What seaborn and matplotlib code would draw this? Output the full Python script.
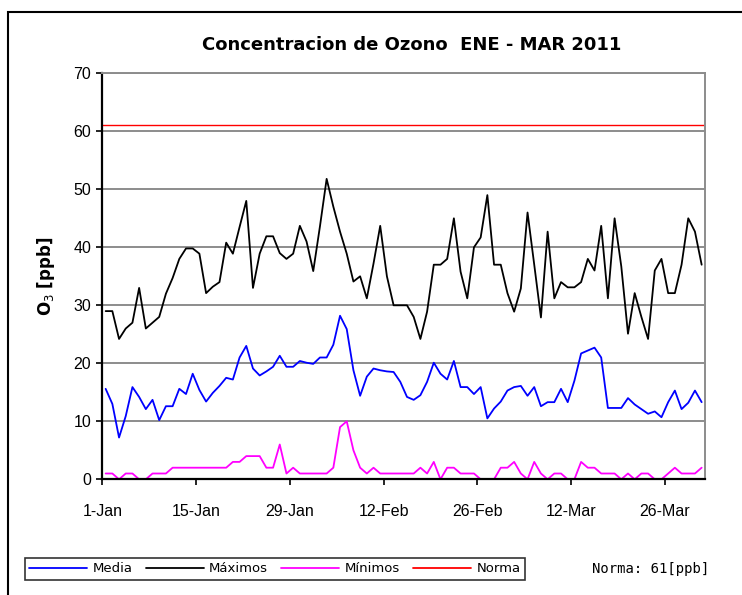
import numpy as np
import pandas as pd
import seaborn as sns
import matplotlib
matplotlib.use("Agg")
import matplotlib.pyplot as plt
import matplotlib.dates as mdates
from matplotlib.patches import Rectangle
from matplotlib.lines import Line2D

# daily values 1-Jan .. 31-Mar 2011
media = [15.6, 13.0, 7.2, 10.9, 15.9, 14.2, 12.1, 13.7, 10.2, 12.6,
         12.6, 15.6, 14.7, 18.2, 15.4, 13.4, 14.9, 16.1, 17.5, 17.2,
         21.0, 23.0, 19.1, 17.9, 18.6, 19.4, 21.3, 19.4, 19.4, 20.4,
         20.1, 19.9, 21.0, 21.0, 23.2, 28.2, 25.9, 18.8, 14.4, 17.7,
         19.1, 18.8, 18.6, 18.5, 16.8, 14.2, 13.7, 14.5, 16.8, 20.1,
         18.2, 17.2, 20.4, 15.9, 15.9, 14.7, 15.9, 10.5, 12.2, 13.4,
         15.3, 15.9, 16.1, 14.4, 15.9, 12.6, 13.3, 13.3, 15.6, 13.3,
         17.0, 21.7, 22.2, 22.7, 21.0, 12.3, 12.3, 12.3, 14.0, 12.9,
         12.1, 11.3, 11.7, 10.7, 13.3, 15.3, 12.1, 13.2, 15.3, 13.3]

maximos = [29, 29, 24.2, 26, 27, 33, 26, 27, 28, 32,
           34.7, 38, 39.8, 39.8, 38.9, 32.1, 33.2, 34, 40.8, 38.9,
           43.5, 48, 33, 38.9, 41.9, 41.9, 39, 38, 38.9, 43.7,
           41, 35.9, 43.6, 51.8, 47, 42.7, 38.9, 34.1, 35, 31.2,
           37.2, 43.7, 35, 30, 30, 30, 28, 24.2, 28.9, 37,
           37, 38, 45, 35.8, 31.2, 40, 41.7, 49, 37, 37,
           32.1, 28.9, 32.9, 46, 37, 27.9, 42.7, 31.2, 34, 33.1,
           33.1, 34, 38, 36, 43.7, 31.2, 45, 36.7, 25.1, 32.1,
           28, 24.2, 36, 38, 32.1, 32.1, 37, 45, 42.7, 37]

minimos = [1, 1, 0, 1, 1, 0, 0, 1, 1, 1,
           2, 2, 2, 2, 2, 2, 2, 2, 2, 3,
           3, 4, 4, 4, 2, 2, 6, 1, 2, 1,
           1, 1, 1, 1, 2, 9, 10, 5, 2, 1,
           2, 1, 1, 1, 1, 1, 1, 2, 1, 3,
           0, 2, 2, 1, 1, 1, 0, 0, 0, 2,
           2, 3, 1, 0, 3, 1, 0, 1, 1, 0,
           0, 3, 2, 2, 1, 1, 1, 0, 1, 0,
           1, 1, 0, 0, 1, 2, 1, 1, 1, 2]

norma = 61
series = ["Media", "Máximos", "Mínimos", "Norma"]
colores = {"Media": "#0000FF", "Máximos": "#000000",
           "Mínimos": "#FF00FF", "Norma": "#FF0000"}

# Excel date axis puts each point in the middle of its day
fechas = pd.date_range("2011-01-01", periods=len(media), freq="D") + pd.Timedelta(hours=12)
df = pd.DataFrame({"fecha": np.tile(fechas, 3),
                   "valor": media + maximos + minimos,
                   "serie": np.repeat(series[:3], len(media))})

sns.set_style("white")
plt.rcParams["font.family"] = ["Liberation Sans", "DejaVu Sans"]
plt.rcParams["text.color"] = "black"
plt.rcParams["axes.labelcolor"] = "black"
plt.rcParams["xtick.color"] = "black"
plt.rcParams["ytick.color"] = "black"

fig = plt.figure(figsize=(7.42, 5.95), dpi=100)
ax = fig.add_axes([102.3 / 742, 1 - 479.3 / 595, (705 - 102.3) / 742, (479.3 - 73.3) / 595])

sns.lineplot(data=df, x="fecha", y="valor", hue="serie", palette=colores,
             linewidth=1.3, ax=ax, legend=False)
ax.axhline(norma, color=colores["Norma"], linewidth=1.0)

ax.set_ylim(0, 70)
ax.set_yticks(range(0, 71, 10))
ax.set_xlim(pd.Timestamp("2011-01-01"), pd.Timestamp("2011-04-01"))
ax.set_xticks(pd.date_range("2011-01-01", periods=7, freq="14D"))
ax.xaxis.set_major_formatter(mdates.DateFormatter("%-d-%b"))

ax.yaxis.grid(True, color="#8c8c8c", linewidth=1.4)
ax.set_axisbelow(True)
for s in ["left", "bottom"]:
    ax.spines[s].set_color("black")
    ax.spines[s].set_linewidth(1.6)
for s in ["top", "right"]:
    ax.spines[s].set_color("#8c8c8c")
    ax.spines[s].set_linewidth(1.4)

ax.tick_params(axis="both", direction="out", length=4, width=1.2,
               labelsize=11.5, pad=4, left=True, bottom=True)
ax.tick_params(axis="x", pad=14)
ax.set_xlabel("")
ax.set_ylabel("O$_3$ [ppb]", fontsize=12, fontweight="bold", labelpad=12,
              family="DejaVu Sans")

fig.text(412 / 742, 1 - 45 / 595, "Concentracion de Ozono  ENE - MAR 2011",
         ha="center", va="center", fontsize=13, fontweight="bold",
         family="DejaVu Sans")

handles = [Line2D([], [], color=colores[s], linewidth=1.3) for s in series]
leg = fig.legend(handles, series, ncol=4, loc="center",
                 bbox_to_anchor=(275 / 742, 1 - 569 / 595),
                 prop={"family": "DejaVu Sans", "size": 9.5},
                 frameon=True, fancybox=False, edgecolor="black",
                 handlelength=4.4, columnspacing=1.0, handletextpad=0.4,
                 borderpad=0.35, borderaxespad=0)
leg.get_frame().set_linewidth(1.2)

fig.text(651 / 742, 1 - 569 / 595, "Norma: 61[ppb]", ha="center", va="center",
         fontsize=10, family="DejaVu Sans Mono")

fig.patches.append(Rectangle((8 / 742, -0.02), 1.0, 1 - 12 / 595 + 0.02,
                             transform=fig.transFigure, fill=False,
                             edgecolor="black", linewidth=1.5))

fig.savefig("out.png", dpi=100)
